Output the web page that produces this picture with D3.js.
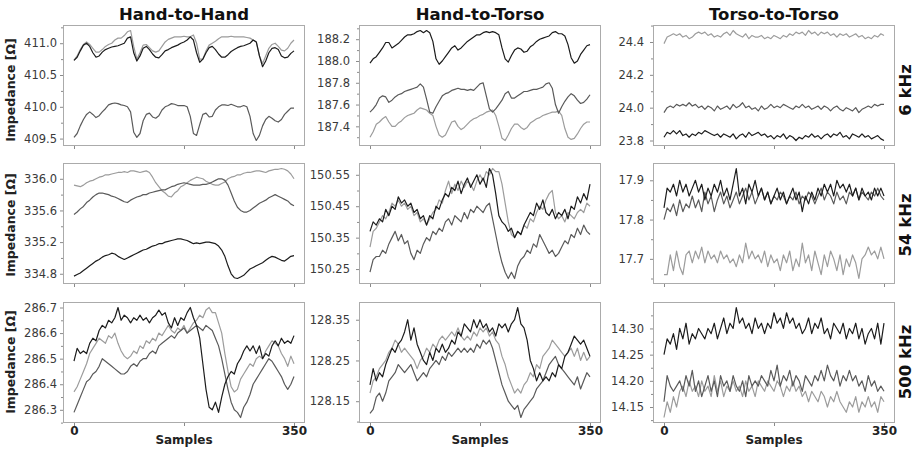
<!DOCTYPE html>
<html>
<head>
<meta charset="utf-8">
<script src="https://cdn.jsdelivr.net/npm/d3@7"></script>
<style>
  body { margin: 0; background: #fff; }
  svg { display: block; }
  text { font-family: "DejaVu Sans", Verdana, sans-serif; }
</style>
</head>
<body>
<svg id="chart" width="916" height="450"></svg>
<script>
// ---- categories ----
const columns = ["Hand-to-Hand", "Hand-to-Torso", "Torso-to-Torso"];
const rows = ["6 kHz", "54 kHz", "500 kHz"];
const sampleTicks = [0, 175, 350];
const sampleTickLabels = ["0", "", "350"];
const nSamples = 350;

// ---- impedance traces, one value every 5 samples (0..350) ----
// Hand-to-Hand, 6 kHz
const hh6k_s1 = [410.73,410.78,410.88,410.97,411.00,410.95,410.85,410.78,410.80,410.86,410.90,410.92,410.94,410.95,410.96,410.98,411.00,411.08,411.10,410.85,410.72,410.80,410.92,410.95,410.90,410.83,410.78,410.77,410.82,410.88,410.90,410.93,410.95,410.97,411.00,411.02,411.05,411.10,411.05,410.85,410.70,410.75,410.85,410.93,410.95,410.90,410.83,410.78,410.78,410.82,410.87,410.90,410.93,410.95,410.96,410.98,411.00,411.05,411.02,410.80,410.63,410.72,410.85,410.92,410.93,410.90,410.80,410.77,410.78,410.84,410.88];
const hh6k_s2 = [409.52,409.58,409.70,409.80,409.88,409.92,409.88,409.83,409.86,409.92,409.97,410.03,410.05,410.06,410.05,410.03,410.02,410.00,409.92,409.60,409.52,409.58,409.78,409.88,409.90,409.84,409.82,409.86,409.95,410.00,410.02,410.05,410.04,410.02,410.02,410.02,410.00,409.85,409.58,409.55,409.72,409.88,409.90,409.84,409.85,409.95,410.00,410.03,410.03,410.02,410.04,410.02,410.00,410.00,410.02,410.00,409.85,409.58,409.47,409.55,409.70,409.80,409.85,409.82,409.78,409.76,409.80,409.88,409.93,409.98,409.98];
const hh6k_s3 = [410.73,410.80,410.90,410.98,411.02,410.98,410.92,410.86,410.86,410.90,410.95,410.98,411.00,411.05,411.08,411.08,411.12,411.18,411.20,410.95,410.75,410.85,410.97,410.98,410.93,410.88,410.86,410.88,410.95,411.02,411.06,411.08,411.10,411.10,411.10,411.11,411.10,411.10,411.13,411.00,410.75,410.75,410.88,410.97,411.00,411.03,411.07,411.10,411.10,411.10,411.11,411.10,411.10,411.10,411.10,411.09,411.08,411.05,411.02,410.80,410.68,410.80,410.92,410.98,411.00,410.95,410.89,410.88,410.92,411.00,411.05];

// Hand-to-Torso, 6 kHz
const ht6k_s1 = [187.98,188.02,188.04,188.08,188.12,188.17,188.17,188.12,188.14,188.16,188.19,188.22,188.24,188.24,188.25,188.27,188.28,188.26,188.28,188.26,188.18,188.02,187.97,188.00,188.04,188.08,188.12,188.14,188.10,188.12,188.15,188.18,188.20,188.22,188.24,188.24,188.26,188.27,188.26,188.27,188.26,188.24,188.12,188.02,187.99,188.05,188.10,188.12,188.11,188.08,188.09,188.13,188.15,188.18,188.20,188.21,188.22,188.23,188.26,188.27,188.25,188.25,188.23,188.15,188.03,187.98,188.00,188.06,188.10,188.14,188.15];
const ht6k_s2 = [187.53,187.56,187.60,187.66,187.68,187.67,187.62,187.64,187.67,187.69,187.70,187.72,187.73,187.74,187.75,187.76,187.79,187.76,187.65,187.53,187.52,187.58,187.63,187.68,187.70,187.71,187.73,187.74,187.75,187.74,187.74,187.73,187.74,187.73,187.76,187.79,187.80,187.68,187.56,187.53,187.56,187.60,187.64,187.70,187.72,187.66,187.66,187.68,187.70,187.72,187.72,187.73,187.74,187.74,187.75,187.76,187.79,187.80,187.75,187.60,187.52,187.58,187.63,187.67,187.70,187.68,187.64,187.61,187.62,187.65,187.69];
const ht6k_s3 = [187.30,187.35,187.42,187.44,187.47,187.49,187.44,187.40,187.40,187.43,187.45,187.48,187.50,187.51,187.52,187.55,187.57,187.56,187.55,187.52,187.50,187.40,187.32,187.30,187.32,187.38,187.44,187.45,187.40,187.37,187.39,187.42,187.45,187.47,187.48,187.50,187.51,187.53,187.54,187.55,187.50,187.40,187.29,187.27,187.32,187.38,187.42,187.42,187.39,187.37,187.39,187.43,187.45,187.47,187.48,187.50,187.51,187.52,187.53,187.53,187.54,187.50,187.38,187.30,187.28,187.29,187.33,187.38,187.42,187.44,187.44];

// Torso-to-Torso, 6 kHz
const tt6k_s1 = [23.82,23.85,23.84,23.86,23.84,23.86,23.83,23.84,23.82,23.84,23.83,23.85,23.84,23.86,23.85,23.84,23.83,23.84,23.82,23.84,23.83,23.82,23.84,23.81,23.83,23.84,23.82,23.85,23.83,23.84,23.85,23.83,23.84,23.82,23.83,23.81,23.83,23.82,23.84,23.81,23.83,23.82,23.80,23.82,23.81,23.83,23.82,23.84,23.82,23.83,23.81,23.83,23.84,23.82,23.84,23.83,23.85,23.82,23.83,23.81,23.84,23.83,23.82,23.84,23.82,23.83,23.81,23.82,23.83,23.81,23.80];
const tt6k_s2 = [23.97,24.00,24.01,24.00,24.02,24.01,24.02,24.01,24.03,24.01,24.02,24.00,24.01,23.99,24.01,24.00,23.98,24.01,23.99,24.00,24.01,23.99,24.02,24.00,24.01,24.03,24.00,24.01,23.99,24.00,23.98,24.01,23.99,24.00,24.02,24.00,24.01,24.00,24.02,24.01,24.00,23.99,24.01,24.00,24.02,24.00,24.01,23.99,24.00,24.01,23.99,24.01,24.00,23.98,24.00,24.01,23.99,23.98,24.00,23.99,23.98,24.00,23.97,23.99,24.00,24.01,24.00,24.02,24.01,24.02,24.02];
const tt6k_s3 = [24.39,24.43,24.44,24.45,24.44,24.45,24.43,24.44,24.42,24.43,24.45,24.46,24.45,24.46,24.44,24.45,24.43,24.44,24.43,24.45,24.46,24.44,24.47,24.45,24.44,24.43,24.45,24.42,24.44,24.43,24.43,24.44,24.42,24.43,24.42,24.44,24.43,24.42,24.44,24.43,24.45,24.44,24.46,24.45,24.46,24.44,24.47,24.45,24.46,24.44,24.46,24.45,24.46,24.44,24.45,24.43,24.45,24.44,24.45,24.43,24.44,24.45,24.43,24.44,24.42,24.43,24.42,24.44,24.43,24.45,24.44];

// Hand-to-Hand, 54 kHz
const hh54k_s1 = [334.77,334.79,334.81,334.84,334.87,334.90,334.93,334.96,334.98,335.01,335.03,335.04,335.06,335.05,335.02,335.00,334.98,335.00,335.02,335.04,335.06,335.08,335.10,335.11,335.13,335.15,335.16,335.18,335.18,335.20,335.21,335.22,335.23,335.24,335.24,335.23,335.22,335.20,335.18,335.19,335.18,335.19,335.20,335.20,335.19,335.18,335.15,335.10,335.02,334.90,334.80,334.75,334.74,334.76,334.78,334.82,334.86,334.88,334.90,334.92,334.94,334.97,335.00,335.02,335.01,334.99,334.97,334.96,334.99,335.02,335.03];
const hh54k_s2 = [335.55,335.58,335.62,335.65,335.70,335.73,335.77,335.80,335.82,335.82,335.81,335.80,335.78,335.77,335.75,335.73,335.71,335.70,335.73,335.75,335.77,335.78,335.80,335.80,335.82,335.83,335.84,335.85,335.86,335.86,335.88,335.90,335.91,335.93,335.94,335.95,335.94,335.93,335.92,335.92,335.92,335.93,335.93,335.94,335.96,335.98,336.00,336.00,335.98,335.92,335.82,335.72,335.64,335.60,335.58,335.58,335.60,335.63,335.66,335.69,335.71,335.73,335.76,335.78,335.80,335.78,335.76,335.74,335.72,335.68,335.66];
const hh54k_s3 = [335.92,335.91,335.90,335.92,335.95,335.97,335.98,336.00,336.02,336.03,336.05,336.05,336.06,336.07,336.08,336.08,336.09,336.08,336.10,336.10,336.09,336.08,336.09,336.10,336.08,336.02,335.95,335.90,335.85,335.82,335.78,335.77,335.82,335.85,335.90,335.92,335.95,335.98,336.00,336.02,336.01,336.00,335.97,335.95,335.93,335.92,335.92,335.94,335.96,336.00,336.02,336.03,336.05,336.05,336.07,336.08,336.08,336.09,336.10,336.10,336.09,336.08,336.10,336.11,336.12,336.12,336.13,336.12,336.10,336.06,336.00];

// Hand-to-Torso, 54 kHz
const ht54k_s1 = [150.37,150.40,150.39,150.41,150.40,150.44,150.42,150.45,150.44,150.48,150.46,150.47,150.45,150.46,150.43,150.44,150.41,150.42,150.39,150.42,150.41,150.45,150.44,150.47,150.49,150.48,150.51,150.50,150.53,150.49,150.52,150.54,150.51,150.53,150.55,150.52,150.54,150.51,150.57,150.55,150.49,150.42,150.40,150.39,150.37,150.38,150.35,150.37,150.36,150.39,150.41,150.43,150.42,150.46,150.44,150.47,150.43,150.42,150.44,150.41,150.43,150.42,150.44,150.41,150.45,150.44,150.48,150.46,150.49,150.47,150.52];
const ht54k_s2 = [150.24,150.28,150.29,150.29,150.31,150.30,150.33,150.35,150.37,150.34,150.36,150.33,150.34,150.30,150.28,150.31,150.30,150.33,150.35,150.34,150.37,150.36,150.38,150.37,150.40,150.41,150.39,150.42,150.41,150.40,150.43,150.41,150.44,150.43,150.45,150.44,150.43,150.45,150.46,150.41,150.36,150.31,150.27,150.24,150.22,150.24,150.22,150.26,150.28,150.29,150.31,150.30,150.33,150.32,150.36,150.34,150.32,150.30,150.31,150.29,150.30,150.32,150.34,150.33,150.36,150.35,150.38,150.36,150.39,150.37,150.36];
const ht54k_s3 = [150.32,150.37,150.38,150.40,150.42,150.41,150.43,150.46,150.45,150.47,150.45,150.46,150.44,150.45,150.42,150.43,150.40,150.41,150.39,150.41,150.43,150.44,150.47,150.46,150.50,150.53,150.49,150.52,150.50,150.53,150.51,150.53,150.52,150.50,150.53,150.55,150.53,150.56,150.55,150.57,150.56,150.56,150.52,150.46,150.40,150.36,150.35,150.37,150.36,150.39,150.38,150.41,150.40,150.43,150.45,150.44,150.47,150.49,150.50,150.43,150.41,150.42,150.40,150.43,150.42,150.41,150.43,150.44,150.43,150.46,150.45];

// Torso-to-Torso, 54 kHz
const tt54k_s1 = [17.83,17.88,17.87,17.89,17.86,17.90,17.87,17.89,17.86,17.88,17.90,17.87,17.89,17.85,17.88,17.86,17.89,17.87,17.90,17.86,17.88,17.85,17.89,17.93,17.86,17.88,17.84,17.89,17.87,17.90,17.86,17.88,17.85,17.87,17.84,17.86,17.88,17.85,17.87,17.84,17.86,17.88,17.85,17.87,17.82,17.86,17.84,17.87,17.85,17.88,17.86,17.89,17.87,17.89,17.86,17.90,17.88,17.89,17.87,17.89,17.86,17.88,17.85,17.88,17.86,17.87,17.85,17.88,17.86,17.88,17.86];
const tt54k_s2 = [17.80,17.83,17.82,17.84,17.81,17.85,17.82,17.84,17.83,17.86,17.83,17.85,17.82,17.87,17.84,17.86,17.82,17.85,17.87,17.84,17.86,17.83,17.85,17.87,17.84,17.86,17.88,17.85,17.87,17.84,17.86,17.88,17.85,17.87,17.84,17.86,17.85,17.87,17.86,17.84,17.86,17.85,17.87,17.84,17.86,17.85,17.87,17.86,17.84,17.86,17.88,17.85,17.87,17.86,17.84,17.87,17.85,17.86,17.84,17.87,17.86,17.88,17.85,17.87,17.86,17.85,17.87,17.86,17.88,17.86,17.85];
const tt54k_s3 = [17.66,17.66,17.71,17.67,17.72,17.68,17.66,17.71,17.72,17.69,17.72,17.70,17.73,17.69,17.72,17.70,17.71,17.69,17.72,17.70,17.71,17.69,17.70,17.68,17.71,17.69,17.74,17.70,17.72,17.70,17.71,17.69,17.72,17.68,17.71,17.69,17.70,17.67,17.71,17.69,17.72,17.67,17.70,17.68,17.74,17.69,17.71,17.67,17.72,17.69,17.66,17.71,17.68,17.72,17.70,17.67,17.71,17.66,17.70,17.68,17.71,17.69,17.65,17.70,17.71,17.73,17.71,17.72,17.70,17.73,17.70];

// Hand-to-Hand, 500 kHz
const hh500k_s1 = [286.49,286.54,286.52,286.53,286.52,286.56,286.58,286.57,286.61,286.63,286.62,286.65,286.64,286.66,286.70,286.65,286.67,286.66,286.64,286.66,286.65,286.67,286.65,286.66,286.64,286.66,286.67,286.69,286.67,286.68,286.64,286.62,286.66,286.63,286.66,286.65,286.68,286.70,286.66,286.63,286.58,286.48,286.38,286.31,286.30,286.33,286.29,286.35,286.40,286.43,286.45,286.44,286.48,286.50,286.53,286.55,286.53,286.55,286.52,286.55,286.50,286.52,286.51,286.55,286.57,286.55,286.58,286.56,286.57,286.56,286.59];
const hh500k_s2 = [286.29,286.32,286.35,286.38,286.41,286.42,286.44,286.45,286.47,286.50,286.49,286.48,286.47,286.46,286.45,286.44,286.44,286.45,286.47,286.48,286.47,286.49,286.50,286.50,286.52,286.53,286.52,286.55,286.56,286.57,286.58,286.59,286.58,286.60,286.61,286.62,286.60,286.61,286.62,286.63,286.62,286.61,286.63,286.62,286.61,286.58,286.55,286.50,286.44,286.38,286.33,286.30,286.29,286.27,286.31,286.33,286.36,286.40,286.42,286.44,286.46,286.48,286.50,286.49,286.47,286.45,286.43,286.40,286.38,286.40,286.43];
const hh500k_s3 = [286.37,286.39,286.42,286.45,286.48,286.52,286.54,286.56,286.58,286.57,286.56,286.59,286.58,286.60,286.56,286.53,286.51,286.50,286.51,286.53,286.52,286.55,286.54,286.57,286.56,286.58,286.57,286.60,286.59,286.61,286.63,286.61,286.60,286.62,286.61,286.63,286.60,286.62,286.64,286.65,286.67,286.66,286.69,286.70,286.68,286.68,286.64,286.60,286.52,286.45,286.39,286.37,286.38,286.42,286.44,286.46,286.48,286.47,286.50,286.51,286.50,286.53,286.55,286.57,286.56,286.55,286.52,286.50,286.47,286.51,286.48];

// Hand-to-Torso, 500 kHz
const ht500k_s1 = [128.19,128.23,128.20,128.22,128.21,128.24,128.26,128.28,128.27,128.29,128.30,128.32,128.35,128.30,128.33,128.29,128.27,128.25,128.24,128.27,128.25,128.28,128.27,128.29,128.27,128.28,128.30,128.29,128.32,128.31,128.34,128.33,128.32,128.35,128.33,128.35,128.33,128.34,128.32,128.33,128.31,128.34,128.33,128.34,128.32,128.34,128.35,128.38,128.34,128.33,128.30,128.25,128.23,128.20,128.22,128.20,128.21,128.20,128.22,128.21,128.24,128.23,128.26,128.27,128.29,128.31,128.30,128.29,128.30,128.28,128.26];
const ht500k_s2 = [128.12,128.13,128.16,128.17,128.15,128.17,128.20,128.21,128.22,128.24,128.23,128.22,128.23,128.24,128.22,128.20,128.21,128.22,128.21,128.23,128.24,128.25,128.24,128.26,128.25,128.27,128.26,128.27,128.28,128.27,128.28,128.27,128.28,128.27,128.29,128.28,128.30,128.29,128.30,128.28,128.25,128.22,128.19,128.17,128.15,128.14,128.13,128.14,128.11,128.13,128.14,128.15,128.16,128.18,128.19,128.20,128.22,128.24,128.25,128.26,128.24,128.23,128.22,128.21,128.20,128.19,128.21,128.18,128.20,128.22,128.21];
const ht500k_s3 = [128.17,128.20,128.21,128.23,128.24,128.25,128.27,128.28,128.30,128.29,128.27,128.28,128.27,128.26,128.25,128.23,128.25,128.26,128.28,128.27,128.29,128.28,128.30,128.31,128.30,128.31,128.32,128.31,128.33,128.31,128.30,128.31,128.30,128.32,128.31,128.33,128.32,128.33,128.31,128.32,128.30,128.29,128.26,128.24,128.21,128.19,128.17,128.18,128.17,128.19,128.20,128.22,128.21,128.24,128.23,128.26,128.27,128.28,128.30,128.29,128.28,128.27,128.26,128.27,128.28,128.26,128.28,128.25,128.27,128.25,128.26];

// Torso-to-Torso, 500 kHz
const tt500k_s1 = [14.25,14.28,14.27,14.29,14.26,14.30,14.28,14.31,14.27,14.29,14.28,14.30,14.29,14.28,14.30,14.29,14.31,14.28,14.30,14.32,14.29,14.31,14.30,14.34,14.31,14.32,14.30,14.31,14.29,14.32,14.30,14.31,14.29,14.31,14.30,14.33,14.31,14.32,14.30,14.33,14.31,14.32,14.30,14.31,14.29,14.30,14.32,14.29,14.31,14.30,14.32,14.29,14.30,14.28,14.31,14.30,14.29,14.31,14.28,14.30,14.29,14.31,14.28,14.30,14.27,14.29,14.30,14.28,14.31,14.27,14.31];
const tt500k_s2 = [14.16,14.21,14.19,14.18,14.19,14.20,14.18,14.21,14.19,14.22,14.18,14.20,14.17,14.19,14.21,14.18,14.20,14.17,14.21,14.19,14.20,14.18,14.21,14.19,14.18,14.20,14.17,14.21,14.19,14.20,14.19,14.21,14.20,14.19,14.22,14.20,14.23,14.19,14.21,14.20,14.22,14.19,14.21,14.20,14.18,14.21,14.20,14.19,14.21,14.20,14.22,14.20,14.23,14.21,14.20,14.22,14.19,14.21,14.20,14.22,14.20,14.21,14.19,14.20,14.18,14.21,14.19,14.20,14.18,14.19,14.18];
const tt500k_s3 = [14.13,14.16,14.14,14.17,14.15,14.18,14.19,14.17,14.20,14.18,14.19,14.17,14.20,14.18,14.19,14.17,14.21,14.18,14.20,14.17,14.19,14.18,14.20,14.18,14.19,14.17,14.20,14.18,14.19,14.17,14.20,14.19,14.18,14.20,14.19,14.18,14.20,14.19,14.17,14.19,14.18,14.20,14.18,14.19,14.17,14.18,14.16,14.18,14.17,14.16,14.18,14.17,14.15,14.17,14.16,14.18,14.16,14.15,14.14,14.16,14.15,14.17,14.14,14.16,14.15,14.17,14.15,14.16,14.14,14.17,14.16];

// ---- y tick labels per panel ----
const hh6k_ticks = [409.5, 410.0, 410.5, 411.0];
const ht6k_ticks = [187.4, 187.6, 187.8, 188.0, 188.2];
const tt6k_ticks = [23.8, 24.0, 24.2, 24.4];
const hh54k_ticks = [334.8, 335.2, 335.6, 336.0];
const ht54k_ticks = [150.25, 150.35, 150.45, 150.55];
const tt54k_ticks = [17.7, 17.8, 17.9];
const hh500k_ticks = [286.3, 286.4, 286.5, 286.6, 286.7];
const ht500k_ticks = [128.15, 128.25, 128.35];
const tt500k_ticks = [14.15, 14.20, 14.25, 14.30];

const panels = [
  { row: 0, col: 0, series: [hh6k_s1, hh6k_s2, hh6k_s3], ticks: hh6k_ticks, fmt: ".1f" },
  { row: 0, col: 1, series: [ht6k_s1, ht6k_s2, ht6k_s3], ticks: ht6k_ticks, fmt: ".1f" },
  { row: 0, col: 2, series: [tt6k_s1, tt6k_s2, tt6k_s3], ticks: tt6k_ticks, fmt: ".1f" },
  { row: 1, col: 0, series: [hh54k_s1, hh54k_s2, hh54k_s3], ticks: hh54k_ticks, fmt: ".1f" },
  { row: 1, col: 1, series: [ht54k_s1, ht54k_s2, ht54k_s3], ticks: ht54k_ticks, fmt: ".2f" },
  { row: 1, col: 2, series: [tt54k_s1, tt54k_s2, tt54k_s3], ticks: tt54k_ticks, fmt: ".1f" },
  { row: 2, col: 0, series: [hh500k_s1, hh500k_s2, hh500k_s3], ticks: hh500k_ticks, fmt: ".1f" },
  { row: 2, col: 1, series: [ht500k_s1, ht500k_s2, ht500k_s3], ticks: ht500k_ticks, fmt: ".2f" },
  { row: 2, col: 2, series: [tt500k_s1, tt500k_s2, tt500k_s3], ticks: tt500k_ticks, fmt: ".2f" }
];

// ---- layout ----
const colX = [63, 359, 653];
const rowY = [25, 163, 302];
const W = 242, H = 121;
const seriesColors = ["#1c1c1c", "#5a5a5a", "#9c9c9c"];
const frameColor = "#ababab";
const tickColor = "#8a8a8a";
const labelColor = "#3a3a3a";
const labelGap = [3, 6, 6];
const rowLabelY = [90, 225, 362];

const svg = d3.select("#chart");

panels.forEach(p => {
  const x0 = colX[p.col], y0 = rowY[p.row];
  const all = p.series.flat();
  const [lo, hi] = d3.extent(all);
  const pad = (hi - lo) * 0.05;

  const x = d3.scaleLinear().domain([-nSamples * 0.05, nSamples * 1.05]).range([x0, x0 + W]);
  const y = d3.scaleLinear().domain([lo - pad, hi + pad]).range([y0 + H, y0]);

  const g = svg.append("g");

  // minor y ticks halfway between the labelled ones
  const step = p.ticks[1] - p.ticks[0];
  const minor = [];
  for (let v = p.ticks[0] - step / 2; v <= hi + pad; v += step) {
    if (v >= lo - pad) minor.push(v);
  }
  const yMinor = g.append("g").attr("transform", `translate(${x0},0)`)
    .call(d3.axisLeft(y).tickValues(minor).tickSize(2).tickFormat(""));
  yMinor.select(".domain").remove();
  yMinor.selectAll("line").attr("stroke", tickColor);

  const yAxis = g.append("g").attr("transform", `translate(${x0},0)`)
    .call(d3.axisLeft(y).tickValues(p.ticks).tickSize(3).tickPadding(labelGap[p.col]).tickFormat(d3.format(p.fmt)));
  yAxis.select(".domain").remove();
  yAxis.selectAll("line").attr("stroke", tickColor);
  yAxis.selectAll("text")
    .attr("fill", labelColor)
    .style("font-size", "11.5px")
    .style("font-family", "'DejaVu Sans', Verdana, sans-serif");

  const xAxis = g.append("g").attr("transform", `translate(0,${y0 + H})`)
    .call(d3.axisBottom(x).tickValues(sampleTicks).tickSize(3).tickPadding(0)
      .tickFormat((d, i) => p.row === 2 ? sampleTickLabels[i] : ""));
  xAxis.select(".domain").remove();
  xAxis.selectAll("line").attr("stroke", tickColor);
  xAxis.selectAll("text")
    .attr("fill", "#222")
    .style("font-size", "12px")
    .style("font-weight", "bold")
    .style("font-family", "'DejaVu Sans', Verdana, sans-serif");

  // traces: light first so the darker ones sit on top
  const line = d3.line()
    .x((d, i, arr) => x(i * nSamples / (arr.length - 1)))
    .y(d => y(d));
  [2, 1, 0].forEach(k => {
    g.append("path")
      .datum(p.series[k])
      .attr("fill", "none")
      .attr("stroke", seriesColors[k])
      .attr("stroke-width", 1.2)
      .attr("stroke-linejoin", "round")
      .attr("d", line);
  });

  // frame
  g.append("rect")
    .attr("x", x0 + 0.5).attr("y", y0 + 0.5)
    .attr("width", W - 1).attr("height", H - 1)
    .attr("fill", "none")
    .attr("stroke", frameColor)
    .attr("stroke-width", 1);
});

// column titles
columns.forEach((t, c) => {
  svg.append("text")
    .attr("x", colX[c] + W / 2).attr("y", 20)
    .attr("text-anchor", "middle")
    .style("font-size", "16.5px").style("font-weight", "bold")
    .attr("fill", "#111")
    .text(t);
});

// frequency labels on the right, impedance labels on the left
rows.forEach((t, r) => {
  svg.append("text")
    .attr("transform", `translate(911,${rowLabelY[r]}) rotate(-90)`)
    .attr("text-anchor", "middle")
    .style("font-size", "16.5px").style("font-weight", "bold")
    .attr("fill", "#111")
    .text(t);
  svg.append("text")
    .attr("transform", `translate(15,${rowLabelY[r]}) rotate(-90)`)
    .attr("text-anchor", "middle")
    .style("font-size", "12.5px").style("font-weight", "bold")
    .attr("fill", "#222")
    .text("Impedance [Ω]");
});

// x-axis titles under the bottom row
columns.forEach((t, c) => {
  svg.append("text")
    .attr("x", colX[c] + W / 2).attr("y", 444)
    .attr("text-anchor", "middle")
    .style("font-size", "12px").style("font-weight", "bold")
    .attr("fill", "#222")
    .text("Samples");
});
</script>
</body>
</html>
